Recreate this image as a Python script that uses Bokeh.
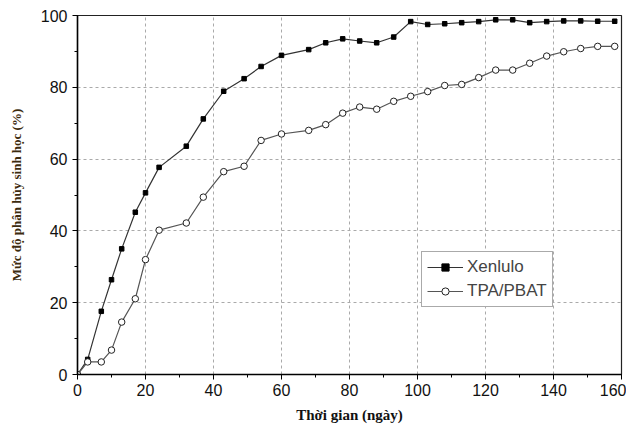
from bokeh.plotting import figure
from bokeh.models import Range1d, FixedTicker, Legend, LegendItem
from bokeh.embed import file_html
from bokeh.resources import INLINE

days = [0, 3, 7, 10, 13, 17, 20, 24, 32, 37, 43, 49, 54, 60, 68, 73, 78, 83, 88, 93,
        98, 103, 108, 113, 118, 123, 128, 133, 138, 143, 148, 153, 158]
xenlulo = [0, 4.2, 17.6, 26.4, 35.0, 45.2, 50.6, 57.7, 63.6, 71.2, 78.9, 82.4, 85.8, 88.9,
           90.5, 92.4, 93.5, 92.9, 92.4, 94.0, 98.3, 97.5, 97.7, 98.0, 98.3, 98.8, 98.8,
           98.0, 98.3, 98.5, 98.5, 98.4, 98.4]
tpa_pbat = [0, 3.5, 3.5, 6.8, 14.6, 21.1, 32.0, 40.2, 42.2, 49.4, 56.5, 58.0, 65.2, 67.0,
            68.0, 69.6, 72.8, 74.5, 73.9, 76.1, 77.5, 78.8, 80.5, 80.8, 82.7, 84.8, 84.8,
            86.7, 88.7, 89.9, 90.8, 91.4, 91.4]
x_ticks = [0, 20, 40, 60, 80, 100, 120, 140, 160]
y_ticks = [0, 20, 40, 60, 80, 100]
series_names = ["Xenlulo", "TPA/PBAT"]

p = figure(width=626, height=426, output_backend="svg", toolbar_location=None,
           x_range=Range1d(0, 160), y_range=Range1d(0, 100),
           min_border_left=77, min_border_right=5, min_border_top=15, min_border_bottom=52)
p.outline_line_color = "#222222"
p.outline_line_width = 1.2
p.background_fill_color = "white"
p.border_fill_color = "white"

for ax in (p.xaxis[0], p.yaxis[0]):
    ax.major_label_text_font = "Liberation Sans"
    ax.major_label_text_font_size = "16px"
    ax.major_label_text_color = "#111111"
    ax.axis_line_color = "black"
    ax.axis_line_width = 1.5
    ax.major_tick_line_color = "black"
    ax.minor_tick_line_color = "black"
    ax.major_tick_out = 5
    ax.major_tick_in = 0
    ax.minor_tick_out = 3
    ax.minor_tick_in = 0
    ax.axis_label_text_font = "Liberation Serif"
    ax.axis_label_text_font_style = "bold"

p.xaxis[0].ticker = FixedTicker(ticks=x_ticks, minor_ticks=list(range(0, 161, 10)))
p.yaxis[0].ticker = FixedTicker(ticks=y_ticks, minor_ticks=list(range(0, 101, 10)))
p.xaxis[0].major_label_standoff = 4
p.xaxis[0].axis_label = "Thời gian (ngày)"
p.xaxis[0].axis_label_text_color = "#111111"
p.xaxis[0].axis_label_text_font_size = "15px"
p.xaxis[0].axis_label_standoff = 8
p.yaxis[0].axis_label = "Mức độ phân hủy sinh học (%)"
p.yaxis[0].axis_label_text_color = "#3d2b0e"
p.yaxis[0].axis_label_text_font_size = "13px"
p.yaxis[0].axis_label_standoff = 14

for g in (p.xgrid[0], p.ygrid[0]):
    g.grid_line_color = "#aaaaaa"
    g.grid_line_dash = "3 3"
    g.grid_line_width = 1

l1 = p.line(days, xenlulo, line_color="#333333", line_width=1.2)
m1 = p.scatter(days, xenlulo, marker="square", size=4.5, fill_color="black", line_color="black")
l2 = p.line(days, tpa_pbat, line_color="#555555", line_width=1.2)
m2 = p.scatter(days, tpa_pbat, marker="circle", size=6.5, fill_color="white", line_color="#222222",
               line_width=1)

legend = Legend(items=[LegendItem(label=series_names[0], renderers=[l1, m1]),
                       LegendItem(label=series_names[1], renderers=[l2, m2])],
                location=(344, 67))
legend.label_text_font = "Liberation Sans"
legend.label_text_font_size = "17px"
legend.glyph_width = 36
legend.glyph_height = 18
legend.label_standoff = 4
legend.spacing = 4
legend.padding = 5
legend.margin = 0
legend.border_line_color = "#555555"
legend.border_line_width = 1.2
legend.background_fill_alpha = 1
p.add_layout(legend)

open("out.html", "w").write(file_html(p, INLINE))
